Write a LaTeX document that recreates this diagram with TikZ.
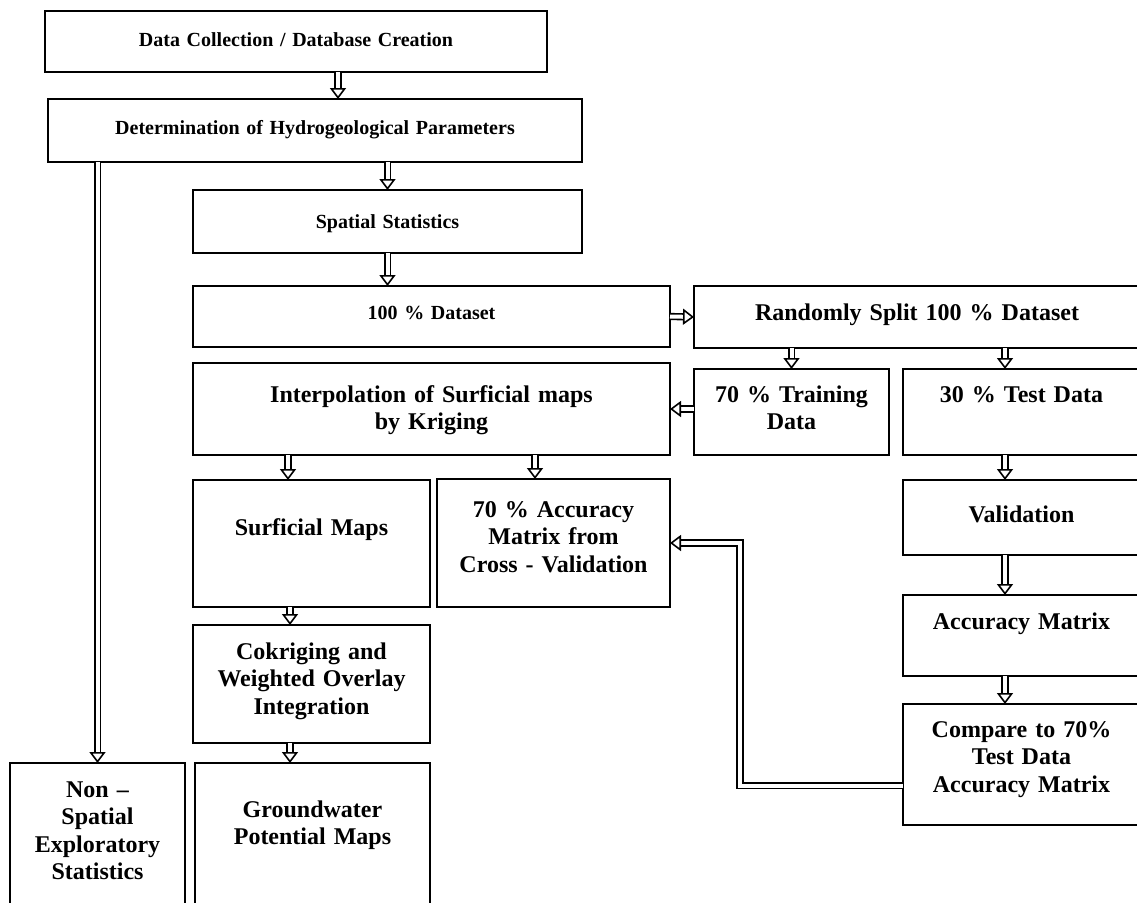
\documentclass[tikz,border=0pt]{standalone}
\usepackage{fontspec}
\setmainfont{Liberation Serif}
\usetikzlibrary{arrows.meta}
\tikzstyle{box} = [draw, line width=1.8pt, fill=white, anchor=north west, inner sep=0pt, outer sep=0pt, align=center, font=\fontsize{24}{27.6}\selectfont\bfseries]
\tikzstyle{topbox} = [box, font=\fontsize{20}{23}\selectfont\bfseries]
\tikzstyle{arrow} = [double, double distance=4pt, line width=1.6pt, -{Triangle[open, length=11pt, width=16pt]}]

\begin{document}
\begin{tikzpicture}[x=1pt, y=-1pt]
    \useasboundingbox (0,0) rectangle (1137,902);
    \clip (0,0) rectangle (1137,902);
        % left column
        \node[topbox, text width=502pt, text height=35pt, text depth=26pt] (data) at (45,11) {Data Collection / Database Creation};
        \node[topbox, text width=534pt, text height=35pt, text depth=28pt] (det) at (48,99) {Determination of Hydrogeological Parameters};
        \node[topbox, text width=389pt, text height=38pt, text depth=25pt] (spat) at (193,190) {Spatial Statistics};
        \node[topbox, text width=477pt, text height=33pt, text depth=28pt] (ds) at (193,286) {100 \% Dataset};
        \node[box, text width=477pt, text height=39pt, text depth=53pt] (interp) at (193,363) {Interpolation of Surficial maps\\by Kriging};
        \node[box, text width=237pt, text height=55pt, text depth=72pt] (surf) at (193,480) {Surficial Maps};
        \node[box, text width=233pt, text height=38pt, text depth=90pt] (acc70) at (437,479) {70 \% Accuracy\\Matrix from\\Cross - Validation};
        \node[box, text width=237pt, text height=34pt, text depth=84pt] (cok) at (193,625) {Cokriging and\\Weighted Overlay\\Integration};
        \node[box, text width=175pt, text height=34pt, text depth=133pt] (nonsp) at (10,763) {Non --\\Spatial\\Exploratory\\Statistics};
        \node[box, text width=235pt, text height=54pt, text depth=113pt] (gw) at (195,763) {Groundwater\\Potential Maps};
        % right column
        \node[box, text width=446pt, text height=34pt, text depth=28pt] (split) at (694,286) {Randomly Split 100 \% Dataset};
        \node[box, text width=195pt, text height=33pt, text depth=53pt] (train) at (694,369) {70 \% Training\\Data};
        \node[box, text width=237pt, text height=33pt, text depth=53pt] (test) at (903,369) {30 \% Test Data};
        \node[box, text width=237pt, text height=42pt, text depth=33pt] (valid) at (903,480) {Validation};
        \node[box, text width=237pt, text height=34pt, text depth=47pt] (accm) at (903,595) {Accuracy Matrix};
        \node[box, text width=237pt, text height=33pt, text depth=88pt] (cmp) at (903,704) {Compare to 70\%\\Test Data\\Accuracy Matrix};

        \draw[arrow] ([xshift=42pt]data.south) -- ([xshift=23pt]det.north);
        \draw[arrow] (det.south -| spat.north) -- (spat.north);
        \draw[arrow] (spat.south) -- (spat.south |- ds.north);
        \draw[arrow] (det.south -| nonsp.north) -- (nonsp.north);
        \draw[arrow] (ds.east) -- (split.west);
        \draw[arrow] (split.south -| train.north) -- (train.north);
        \draw[arrow] ([xshift=-16.5pt]split.south -| test.north) -- ([xshift=-16.5pt]test.north);
        \draw[arrow] (interp.east -| train.west) -- (interp.east);
        \draw[arrow] ([xshift=-143.5pt]interp.south) -- ([xshift=-23.5pt]surf.north);
        \draw[arrow] ([xshift=103.5pt]interp.south) -- ([xshift=-18.5pt]acc70.north);
        \draw[arrow] ([xshift=-16.5pt]test.south) -- ([xshift=-16.5pt]valid.north);
        \draw[arrow] ([xshift=-16.5pt]valid.south) -- ([xshift=-16.5pt]accm.north);
        \draw[arrow] ([xshift=-16.5pt]accm.south) -- ([xshift=-16.5pt]cmp.north);
        \draw[arrow] ([xshift=-21.5pt]surf.south) -- ([xshift=-21.5pt]cok.north);
        \draw[arrow] ([xshift=-21.5pt]cok.south) -- ([xshift=-22.5pt]gw.north);
        \draw[arrow] ([yshift=-21pt]cmp.west) -| ([xshift=70pt]acc70.east) -- (acc70.east);
    \end{tikzpicture}
\end{document}
